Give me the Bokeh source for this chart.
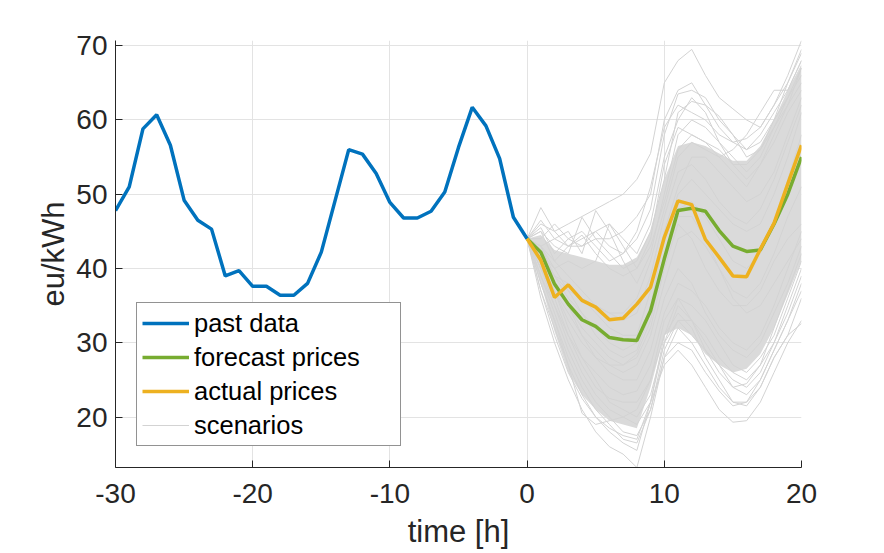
from bokeh.plotting import figure
from bokeh.models import Range1d, FixedTicker, Legend, LegendItem
from bokeh.embed import file_html
from bokeh.resources import INLINE

# ---------------- data ----------------
past_hours = list(range(-30, 1))
past_prices = [47.8, 51.0, 58.8, 60.7, 56.6, 49.2, 46.5, 45.3, 39.0, 39.7, 37.6,
               37.6, 36.4, 36.4, 38.0, 42.2, 49.1, 56.0, 55.4, 52.8, 48.9,
               46.8, 46.8, 47.7, 50.3, 56.3, 61.7, 59.2, 54.8, 46.9, 44.0]

future_hours = list(range(0, 21))
forecast_prices = [44.0, 42.2, 37.9, 35.2, 33.1, 32.2, 30.7, 30.4, 30.3, 34.3, 41.3,
                   47.8, 48.1, 47.7, 45.1, 43.0, 42.3, 42.5, 46.0, 50.0, 55.0]
actual_prices = [44.0, 41.1, 36.1, 37.8, 35.7, 34.8, 33.1, 33.3, 35.2, 37.5, 44.2,
                 49.1, 48.6, 43.9, 41.5, 39.0, 38.9, 42.6, 46.1, 51.4, 56.6]

# dense band of scenarios (upper / lower edge of the bundle core)
scen_core_upper = [44.0, 44.5, 42.5, 42.0, 41.5, 41.0, 40.5, 40.5, 41.5, 45.0, 52.0,
                   56.5, 57.0, 56.5, 55.5, 54.5, 54.5, 56.5, 60.0, 64.0, 67.5]
scen_core_lower = [44.0, 38.0, 31.5, 26.0, 23.0, 21.0, 19.5, 19.0, 18.5, 24.0, 31.0,
                   32.0, 31.0, 28.5, 27.0, 26.0, 26.5, 28.5, 32.0, 36.5, 41.0]

# individual scenario traces
scen_1 = [44, 46, 45, 46, 47, 48, 49, 50, 52, 55.5, 65, 68, 69.5, 66, 63, 61.5, 60, 59, 62, 66, 70.7]
scen_2 = [44, 48.2, 45, 43, 44, 45, 43, 42, 44, 48, 58, 63.5, 64, 63, 60, 58, 56, 58, 61, 64, 68]
scen_3 = [44, 45, 43, 42, 46.9, 44, 42, 40, 41, 45, 52, 61, 62.5, 62, 60.5, 58, 55, 56, 60, 65, 69]
scen_4 = [44, 43, 44, 45, 42, 47.8, 45, 41, 38, 42, 50, 58, 60, 59, 57, 55, 53, 55, 59, 63, 67]
scen_5 = [44, 42, 40, 41, 40, 41, 46, 43, 40, 43, 49, 56, 58, 57, 55, 53, 51, 54, 58, 62, 65]
scen_6 = [44, 41, 39, 37, 36, 35, 34, 34, 36, 41, 48, 55, 57, 56, 55, 56, 58, 61, 64, 64, 68]
scen_7 = [44, 36, 30, 25, 21, 18, 16, 15, 13.2, 20, 28, 32, 30, 27, 24, 22, 22, 25, 29, 33, 38]
scen_8 = [44, 37, 31, 26, 22.5, 20, 18, 16.5, 15.5, 22, 30, 35, 33, 30, 27, 25, 24, 26, 30, 34, 39]
scen_9 = [44, 38, 33, 27, 20.5, 19, 19.5, 20, 21, 25, 31, 34, 32, 28, 25, 22, 21.5, 24, 28, 31, 36]
scen_10 = [44, 40, 35, 30, 26, 23, 21, 20, 19, 22, 27, 29, 27, 24, 21, 19.3, 19.5, 22, 26, 30, 33]
scen_11 = [44, 39, 34, 29, 25, 22, 20, 18, 17.5, 21, 28, 30, 29, 26, 23.5, 21.5, 22, 24, 28, 31, 32.6]
scen_12 = [44, 41, 37, 32, 28, 25, 22, 21, 20, 23, 30, 33, 31, 29, 27, 24, 23, 25, 29, 33, 37]
scen_13 = [44, 43, 40, 37, 34, 31, 29, 28, 29, 34, 42, 48, 49, 47, 44, 41, 40, 42, 46, 52, 58]
scen_14 = [44, 40, 37, 34, 31, 29, 27, 26, 27, 31, 38, 44, 45, 43, 40, 37, 36, 38, 42, 47, 51]
scen_15 = [44, 45, 41, 39, 37, 35, 34, 33, 34, 39, 47, 53, 54, 52, 49, 47, 46, 48, 52, 57, 62]
scen_16 = [44, 42, 38, 35, 32, 30, 28, 27, 28, 32, 40, 46, 44, 40, 37, 35, 35, 37, 41, 44, 46]
scen_17 = [44, 46.5, 44, 43, 43, 44, 44, 45, 47, 50, 60, 64, 65, 62, 59, 57, 56, 57, 60, 63, 66]
scen_18 = [44, 44, 46, 44, 45, 43, 41, 42, 45, 51, 59, 62, 61, 60, 58, 57, 57.5, 59, 62, 65, 69.5]
scen_19 = [44, 45.5, 42, 44, 43, 45, 46, 44, 42, 46, 55, 60, 63, 61, 57, 54, 52, 54, 57, 61, 64]
scen_20 = [44, 43, 41, 43, 44.5, 42, 40, 39, 40, 44, 54, 59, 58, 57, 56, 54, 54, 56, 59, 62, 67]
scen_21 = [44, 38, 33, 28, 24, 21, 19, 17, 16.5, 21, 29, 33, 33, 31, 28, 26, 25, 27, 30, 35, 40]
scen_22 = [44, 40, 36, 31, 27, 24, 22.5, 22, 22, 25, 33, 36, 33, 29, 26, 24, 24.5, 27, 32, 37, 42]
scen_23 = [44, 41, 38, 35, 31, 28, 26, 25, 25, 29, 36, 40, 38, 34, 31, 29, 28, 30, 34, 38, 43]
scen_24 = [44, 37, 32, 27, 23, 20, 18.5, 17.5, 17, 22, 31, 36, 35, 33, 30, 27, 26, 28, 31, 36, 41]
scen_25 = [44, 42, 39, 36, 34, 32, 30, 29, 30, 35, 44, 50, 52, 50, 48, 46, 45, 46, 50, 55, 61]
scen_26 = [44, 39, 35, 31, 28, 26, 24, 23, 23.5, 27, 34, 38, 37, 35, 32, 30, 29, 31, 35, 40, 45]
scen_27 = [44, 43, 39, 38, 36, 34, 32, 31, 31, 37, 45, 51, 55, 55, 53, 51, 49, 50, 53, 58, 63]
scen_28 = [44, 41, 37, 33, 30, 28, 27, 27, 28.5, 33, 41, 47, 47, 44, 40, 36, 34, 35, 38, 41, 44]

scenarios = [scen_1, scen_2, scen_3, scen_4, scen_5, scen_6, scen_7, scen_8,
             scen_9, scen_10, scen_11, scen_12, scen_13, scen_14, scen_15, scen_16,
             scen_17, scen_18, scen_19, scen_20, scen_21, scen_22, scen_23, scen_24,
             scen_25, scen_26, scen_27, scen_28]

x_ticks = [-30, -20, -10, 0, 10, 20]
x_tick_labels = ["-30", "-20", "-10", "0", "10", "20"]
y_ticks = [20, 30, 40, 50, 60, 70]
y_tick_labels = ["20", "30", "40", "50", "60", "70"]

# ---------------- styling ----------------
BLUE = "#0072BD"
GREEN = "#77AC30"
ORANGE = "#EDB120"
GRAY = "#dadada"
DARK = "#262626"
FONT = "Liberation Sans"

all_vals = past_prices + forecast_prices + actual_prices + sum(scenarios, [])
y_lo = min(all_vals)
y_hi = max(all_vals)

p = figure(width=884, height=553, output_backend="svg", toolbar_location=None,
           x_range=Range1d(-30, 20), y_range=Range1d(y_lo, y_hi),
           min_border_left=115, min_border_right=83, min_border_top=40,
           min_border_bottom=86)

p.outline_line_color = None
p.background_fill_color = "white"
p.border_fill_color = "white"

# scenarios
band = p.varea(x=future_hours, y1=scen_core_lower, y2=scen_core_upper,
               fill_color=GRAY, fill_alpha=1.0)
scen_r = p.multi_line(xs=[future_hours] * len(scenarios), ys=scenarios,
                      line_color="#d3d3d3", line_width=1)

past_r = p.line(past_hours, past_prices, line_color=BLUE, line_width=3.5)
fc_r = p.line(future_hours, forecast_prices, line_color=GREEN, line_width=3.5)
act_r = p.line(future_hours, actual_prices, line_color=ORANGE, line_width=3.5)

# axes
for ax in (p.xaxis[0], p.yaxis[0]):
    ax.axis_line_color = DARK
    ax.axis_line_width = 1
    ax.major_tick_line_color = DARK
    ax.major_tick_in = 7
    ax.major_tick_out = 0
    ax.minor_tick_line_color = None
    ax.major_label_text_font = FONT
    ax.major_label_text_font_size = "28px"
    ax.major_label_text_color = DARK
    ax.axis_label_text_font = FONT
    ax.axis_label_text_font_size = "31px"
    ax.axis_label_text_color = DARK
    ax.axis_label_text_font_style = "normal"

p.xaxis[0].ticker = FixedTicker(ticks=x_ticks)
p.yaxis[0].ticker = FixedTicker(ticks=y_ticks)
p.xaxis[0].major_label_overrides = dict(zip(x_ticks, x_tick_labels))
p.yaxis[0].major_label_overrides = dict(zip(y_ticks, y_tick_labels))
p.xaxis[0].axis_label = "time [h]"
p.yaxis[0].axis_label = "eu/kWh"
p.xaxis[0].major_label_standoff = 16
p.xaxis[0].axis_label_standoff = 8
p.yaxis[0].major_label_standoff = 8
p.yaxis[0].axis_label_standoff = 2

p.xgrid[0].ticker = FixedTicker(ticks=x_ticks)
p.ygrid[0].ticker = FixedTicker(ticks=y_ticks)
for g in (p.xgrid[0], p.ygrid[0]):
    g.grid_line_color = "#e3e3e3"
    g.grid_line_width = 1

legend = Legend(items=[
    LegendItem(label="past data", renderers=[past_r]),
    LegendItem(label="forecast prices", renderers=[fc_r]),
    LegendItem(label="actual prices", renderers=[act_r]),
    LegendItem(label="scenarios", renderers=[scen_r]),
], location=(21, 21))
legend.label_text_font = FONT
legend.label_text_font_size = "25.5px"
legend.label_text_color = "black"
legend.glyph_width = 47
legend.glyph_height = 30
legend.label_height = 30
legend.label_width = 201
legend.label_standoff = 5
legend.spacing = 4
legend.padding = 5
legend.margin = 0
legend.border_line_color = DARK
legend.border_line_width = 1
legend.background_fill_alpha = 1.0
p.add_layout(legend, "center")

open("out.html", "w").write(file_html(p, INLINE))
